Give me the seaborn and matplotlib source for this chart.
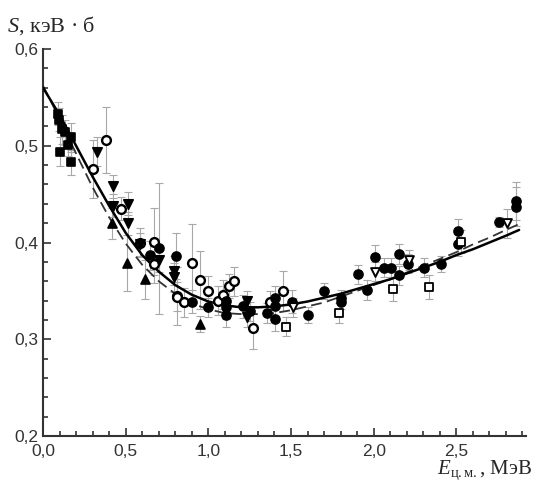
import numpy as np
import pandas as pd
import matplotlib
matplotlib.use("Agg")
import matplotlib.pyplot as plt
import seaborn as sns
from matplotlib.ticker import MultipleLocator, FuncFormatter

# fit curves
fit_e = [0, 0.1, 0.2, 0.3, 0.4, 0.5, 0.6, 0.7, 0.8, 0.9, 1.0, 1.1, 1.2, 1.3, 1.4,
         1.5, 1.6, 1.7, 1.8, 1.9, 2.0, 2.1, 2.2, 2.3, 2.4, 2.5, 2.6, 2.7, 2.8, 2.88]
fit_solid = [0.560, 0.532, 0.500, 0.468, 0.438, 0.410, 0.387, 0.370, 0.356, 0.346,
             0.339, 0.335, 0.333, 0.333, 0.334, 0.336, 0.339, 0.343, 0.347, 0.352,
             0.357, 0.362, 0.368, 0.374, 0.380, 0.387, 0.393, 0.400, 0.407, 0.413]
fit_dash = [0.562, 0.528, 0.492, 0.457, 0.426, 0.399, 0.377, 0.360, 0.347, 0.337,
            0.331, 0.327, 0.326, 0.326, 0.327, 0.330, 0.334, 0.338, 0.344, 0.350,
            0.356, 0.362, 0.369, 0.376, 0.383, 0.390, 0.398, 0.405, 0.413, 0.419]

# experimental groups
sq_e = [0.093, 0.097, 0.113, 0.133, 0.167, 0.153, 0.103, 0.168]
sq_s = [0.533, 0.527, 0.517, 0.514, 0.509, 0.501, 0.494, 0.483]
sq_d = [0.012, 0.012, 0.015, 0.013, 0.015, 0.012, 0.015, 0.013]

oc_e = [0.381, 0.30, 0.472, 0.587, 0.671, 0.673, 0.809, 0.90, 0.95, 0.813,
        0.853, 1.0, 1.06, 1.087, 1.125, 1.155, 1.268, 1.373, 1.454]
oc_s = [0.506, 0.476, 0.435, 0.400, 0.401, 0.378, 0.345, 0.379, 0.361, 0.344,
        0.338, 0.350, 0.340, 0.346, 0.355, 0.360, 0.312, 0.338, 0.350]
oc_d = [0.034, 0.03, 0.012, 0.015, 0.035, 0.02, 0.03, 0.04, 0.03, 0.015,
        0.015, 0.015, 0.015, 0.015, 0.012, 0.015, 0.022, 0.012, 0.021]

dt_e = [0.329, 0.421, 0.421, 0.516, 0.516, 0.585, 0.70, 0.793, 0.793, 1.232, 1.232]
dt_s = [0.494, 0.458, 0.438, 0.440, 0.420, 0.398, 0.382, 0.371, 0.364, 0.340, 0.323]
dt_d = [0.015, 0.012, 0.012, 0.012, 0.012, 0.012, 0.012, 0.015, 0.015, 0.01, 0.01]

ut_e = [0.415, 0.506, 0.617, 0.95]
ut_s = [0.420, 0.379, 0.362, 0.316]
ut_d = [0.016, 0.029, 0.02, 0.008]

fc_e = [0.647, 0.70, 0.805, 0.90, 1.0, 1.107, 1.107, 1.107, 1.208, 1.25, 1.353,
        1.403, 1.403, 1.403, 1.504, 1.60, 1.70, 1.80, 1.80, 1.904, 1.958, 2.008,
        2.06, 2.105, 2.156, 2.156, 2.206, 2.307, 2.408, 2.508, 2.508, 2.76, 2.86, 2.86]
fc_s = [0.387, 0.394, 0.386, 0.339, 0.333, 0.340, 0.333, 0.325, 0.334, 0.329, 0.327,
        0.343, 0.334, 0.321, 0.339, 0.325, 0.350, 0.343, 0.339, 0.367, 0.351, 0.385,
        0.374, 0.374, 0.388, 0.366, 0.378, 0.374, 0.378, 0.412, 0.398, 0.421, 0.443, 0.437]
fc_d = [0.015, 0.068, 0.024, 0.012, 0.01, 0.012, 0.012, 0.012, 0.012, 0.01, 0.01,
        0.012, 0.012, 0.012, 0.012, 0.008, 0.008, 0.008, 0.008, 0.01, 0.01, 0.012,
        0.01, 0.01, 0.01, 0.01, 0.01, 0.01, 0.008, 0.012, 0.012, 0.005, 0.02, 0.02]

os_e = [1.47, 1.793, 2.115, 2.337, 2.529]
os_s = [0.313, 0.327, 0.352, 0.354, 0.401]
os_d = [0.01, 0.01, 0.012, 0.012, 0.012]

ot_e = [1.514, 2.008, 2.216, 2.809]
ot_s = [0.333, 0.370, 0.382, 0.420]
ot_d = [0.01, 0.01, 0.01, 0.015]

sns.set_style("ticks")
plt.rcParams['font.family'] = ['Liberation Sans', 'DejaVu Sans']
plt.rcParams['mathtext.fontset'] = 'custom'
plt.rcParams['mathtext.rm'] = 'Liberation Serif'
plt.rcParams['mathtext.it'] = 'Liberation Serif:italic'

fig = plt.figure(figsize=(5.37, 4.94), dpi=100)
ax = fig.add_axes([0.0801, 0.1174, 0.8989, 0.7834])

# (x, y, err, marker, size, face, edge lw)
groups = [
    (sq_e, sq_s, sq_d, 's', 32, 'black', 1.2),
    (oc_e, oc_s, oc_d, 'o', 40, 'white', 1.7),
    (dt_e, dt_s, dt_d, 'v', 46, 'black', 1.2),
    (ut_e, ut_s, ut_d, '^', 42, 'black', 1.2),
    (fc_e, fc_s, fc_d, 'o', 42, 'black', 1.2),
    (os_e, os_s, os_d, 's', 28, 'white', 1.3),
    (ot_e, ot_s, ot_d, 'v', 40, 'white', 1.4),
]

for e, s, d, m, sz, fc, lw in groups:
    ax.errorbar(e, s, yerr=d, fmt='none', ecolor='#a8a8a8', elinewidth=0.8,
                capsize=3, capthick=0.8, zorder=1)

fit = pd.DataFrame({'E': fit_e, 'solid': fit_solid, 'dash': fit_dash})
sns.lineplot(data=fit, x='E', y='dash', ax=ax, color='#333333', lw=1.3,
             linestyle=(0, (6, 3)), zorder=2)
sns.lineplot(data=fit, x='E', y='solid', ax=ax, color='black', lw=1.8, zorder=3)

for e, s, d, m, sz, fc, lw in groups:
    sns.scatterplot(x=e, y=s, ax=ax, marker=m, s=sz, facecolor=fc,
                    edgecolor='black', linewidth=lw, zorder=4)

ax.set_xlim(0, 2.92)
ax.set_ylim(0.2, 0.6)
ax.xaxis.set_major_locator(MultipleLocator(0.5))
ax.xaxis.set_minor_locator(MultipleLocator(0.1))
ax.yaxis.set_major_locator(MultipleLocator(0.1))
ax.yaxis.set_minor_locator(MultipleLocator(0.02))
fmt = FuncFormatter(lambda v, p: f"{v:.1f}".replace('.', ','))
ax.xaxis.set_major_formatter(fmt)
ax.yaxis.set_major_formatter(fmt)
ax.tick_params(which='both', direction='in', color='#333333', width=1.2,
               labelsize=12.5, labelcolor='#333333')
ax.tick_params(which='major', length=6)
ax.tick_params(which='minor', length=3.5)
ax.tick_params(axis='x', pad=6)
ax.tick_params(axis='y', pad=3)
sns.despine(ax=ax)
for sp in ['left', 'bottom']:
    ax.spines[sp].set_linewidth(1.5)
    ax.spines[sp].set_color('#333333')
ax.set_xlabel('')
ax.set_ylabel('')

fig.text(0.013, 0.972, '$S$, кэВ · б', fontsize=16, va='top', ha='left',
         family='Liberation Serif')
fig.text(0.99, 0.025, r'$E_{\mathrm{ц.м.}}$, МэВ', fontsize=15, va='bottom',
         ha='right', family='Liberation Serif')

fig.savefig('out.png', dpi=100)
